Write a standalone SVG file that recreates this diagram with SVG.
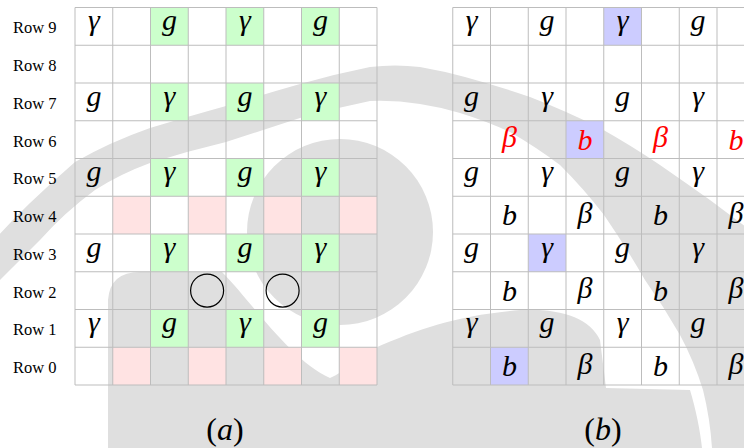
<svg xmlns="http://www.w3.org/2000/svg" width="744" height="448" viewBox="0 0 744 448">
<style>
.wm{fill:#dfdfdf;stroke:none}
.gr{fill:#ccffcc}
.pk{fill:#ffe3e3}
.bl{fill:#ccccff}
.grid{fill:none;stroke:#bdbdbd;stroke-width:1}
.lbl{font-family:"Liberation Serif","Times New Roman",serif;font-size:16.5px;fill:#000}
.m{font-family:"Liberation Serif","Times New Roman",serif;font-style:italic;font-size:30px;fill:#000;text-anchor:middle}
.r{fill:#ff0000}
.cap{font-family:"Liberation Serif","Times New Roman",serif;font-size:32px;fill:#000;text-anchor:middle}
.circ{fill:none;stroke:#000;stroke-width:1.2}
</style>
<rect width="744" height="448" fill="#ffffff"/>
<g id="watermark">
<path class="wm" d="M-10,245 Q10,222 30,203 Q52,182 75,162 Q110,142 150,128 Q190,116 226,106 Q265,94 300,84 Q335,74 370,67 Q395,64 420,67 Q443,71 465,77 Q498,86 530,97 Q566,111 600,128 Q632,146 660,165 Q686,183 710,200 L750,230 L750,448 L712,448 Q710,418 703,390 Q694,361 680,335 Q664,307 645,280 Q626,247 604,215 Q584,189 560,165 Q536,147 510,132 Q486,121 460,113 Q440,107 420,104 Q395,100 370,101 Q335,108 300,118 Q263,130 226,142 Q188,151 150,163 Q120,174 95,190 Q65,212 40,240 Q15,265 -10,290 Z"/>
<circle class="wm" cx="340" cy="232" r="93"/>
<path class="wm" d="M108,448 L108,300 Q110,272 140,272 L222,272 C250,300 290,360 330,378 C345,372 360,355 375,348 C420,328 460,315 520,310 C560,308 590,318 600,340 L606,388 L690,390 C696,410 700,430 702,448 Z"/>
</g>
<g id="grid-a">
<rect class="gr" x="150.5" y="7.5" width="37.75" height="37.75"/>
<rect class="gr" x="226" y="7.5" width="37.75" height="37.75"/>
<rect class="gr" x="301.5" y="7.5" width="37.75" height="37.75"/>
<rect class="gr" x="150.5" y="83" width="37.75" height="37.75"/>
<rect class="gr" x="226" y="83" width="37.75" height="37.75"/>
<rect class="gr" x="301.5" y="83" width="37.75" height="37.75"/>
<rect class="gr" x="150.5" y="158.5" width="37.75" height="37.75"/>
<rect class="gr" x="226" y="158.5" width="37.75" height="37.75"/>
<rect class="gr" x="301.5" y="158.5" width="37.75" height="37.75"/>
<rect class="gr" x="150.5" y="234" width="37.75" height="37.75"/>
<rect class="gr" x="226" y="234" width="37.75" height="37.75"/>
<rect class="gr" x="301.5" y="234" width="37.75" height="37.75"/>
<rect class="gr" x="150.5" y="309.5" width="37.75" height="37.75"/>
<rect class="gr" x="226" y="309.5" width="37.75" height="37.75"/>
<rect class="gr" x="301.5" y="309.5" width="37.75" height="37.75"/>
<rect class="pk" x="112.75" y="196.25" width="37.75" height="37.75"/>
<rect class="pk" x="188.25" y="196.25" width="37.75" height="37.75"/>
<rect class="pk" x="263.75" y="196.25" width="37.75" height="37.75"/>
<rect class="pk" x="339.25" y="196.25" width="37.75" height="37.75"/>
<rect class="pk" x="112.75" y="347.25" width="37.75" height="37.75"/>
<rect class="pk" x="188.25" y="347.25" width="37.75" height="37.75"/>
<rect class="pk" x="263.75" y="347.25" width="37.75" height="37.75"/>
<rect class="pk" x="339.25" y="347.25" width="37.75" height="37.75"/>
<path class="grid" d="M75,7.5V385M112.75,7.5V385M150.5,7.5V385M188.25,7.5V385M226,7.5V385M263.75,7.5V385M301.5,7.5V385M339.25,7.5V385M377,7.5V385M75,7.5H377M75,45.25H377M75,83H377M75,120.75H377M75,158.5H377M75,196.25H377M75,234H377M75,271.75H377M75,309.5H377M75,347.25H377M75,385H377"/>
<circle class="circ" cx="207.1" cy="290.6" r="16.5"/>
<circle class="circ" cx="282.6" cy="290.6" r="16.5"/>
<g class="m">
<text x="93.9" y="30">γ</text><text x="169.4" y="30">g</text><text x="244.9" y="30">γ</text><text x="320.4" y="30">g</text>
<text x="93.9" y="105.5">g</text><text x="169.4" y="105.5">γ</text><text x="244.9" y="105.5">g</text><text x="320.4" y="105.5">γ</text>
<text x="93.9" y="181">g</text><text x="169.4" y="181">γ</text><text x="244.9" y="181">g</text><text x="320.4" y="181">γ</text>
<text x="93.9" y="256.5">g</text><text x="169.4" y="256.5">γ</text><text x="244.9" y="256.5">g</text><text x="320.4" y="256.5">γ</text>
<text x="93.9" y="332">γ</text><text x="169.4" y="332">g</text><text x="244.9" y="332">γ</text><text x="320.4" y="332">g</text>
</g>
</g>
<g id="row-labels" class="lbl">
<text x="13" y="33.4">Row 9</text>
<text x="13" y="71.1">Row 8</text>
<text x="13" y="108.9">Row 7</text>
<text x="13" y="146.6">Row 6</text>
<text x="13" y="184.4">Row 5</text>
<text x="13" y="222.1">Row 4</text>
<text x="13" y="259.9">Row 3</text>
<text x="13" y="297.6">Row 2</text>
<text x="13" y="335.4">Row 1</text>
<text x="13" y="373.1">Row 0</text>
</g>
<g id="grid-b">
<rect class="bl" x="603.75" y="7.5" width="37.75" height="37.75"/>
<rect class="bl" x="566" y="120.75" width="37.75" height="37.75"/>
<rect class="bl" x="528.25" y="234" width="37.75" height="37.75"/>
<rect class="bl" x="490.5" y="347.25" width="37.75" height="37.75"/>
<path class="grid" d="M452.75,7.5V385M490.5,7.5V385M528.25,7.5V385M566,7.5V385M603.75,7.5V385M641.5,7.5V385M679.25,7.5V385M717,7.5V385M452.75,7.5H755M452.75,45.25H755M452.75,83H755M452.75,120.75H755M452.75,158.5H755M452.75,196.25H755M452.75,234H755M452.75,271.75H755M452.75,309.5H755M452.75,347.25H755M452.75,385H755"/>
<g class="m">
<text x="471.6" y="30">γ</text><text x="547.1" y="30">g</text><text x="622.6" y="30">γ</text><text x="698.1" y="30">g</text>
<text x="471.6" y="105.5">g</text><text x="547.1" y="105.5">γ</text><text x="622.6" y="105.5">g</text><text x="698.1" y="105.5">γ</text>
<text class="r" x="509.4" y="147">β</text><text class="r" x="584.9" y="149.8">b</text><text class="r" x="660.4" y="147">β</text><text class="r" x="735.9" y="149.8">b</text>
<text x="471.6" y="181">g</text><text x="547.1" y="181">γ</text><text x="622.6" y="181">g</text><text x="698.1" y="181">γ</text>
<text x="509.4" y="225.3">b</text><text x="584.9" y="222.5">β</text><text x="660.4" y="225.3">b</text><text x="735.9" y="222.5">β</text>
<text x="471.6" y="256.5">g</text><text x="547.1" y="256.5">γ</text><text x="622.6" y="256.5">g</text><text x="698.1" y="256.5">γ</text>
<text x="509.4" y="300.8">b</text><text x="584.9" y="298">β</text><text x="660.4" y="300.8">b</text><text x="735.9" y="298">β</text>
<text x="471.6" y="332">γ</text><text x="547.1" y="332">g</text><text x="622.6" y="332">γ</text><text x="698.1" y="332">g</text>
<text x="509.4" y="376.3">b</text><text x="584.9" y="373.5">β</text><text x="660.4" y="376.3">b</text><text x="735.9" y="373.5">β</text>
</g>
</g>
<g id="captions" class="cap">
<text x="225" y="440">(<tspan font-style="italic">a</tspan>)</text>
<text x="603" y="440">(<tspan font-style="italic">b</tspan>)</text>
</g>
</svg>
